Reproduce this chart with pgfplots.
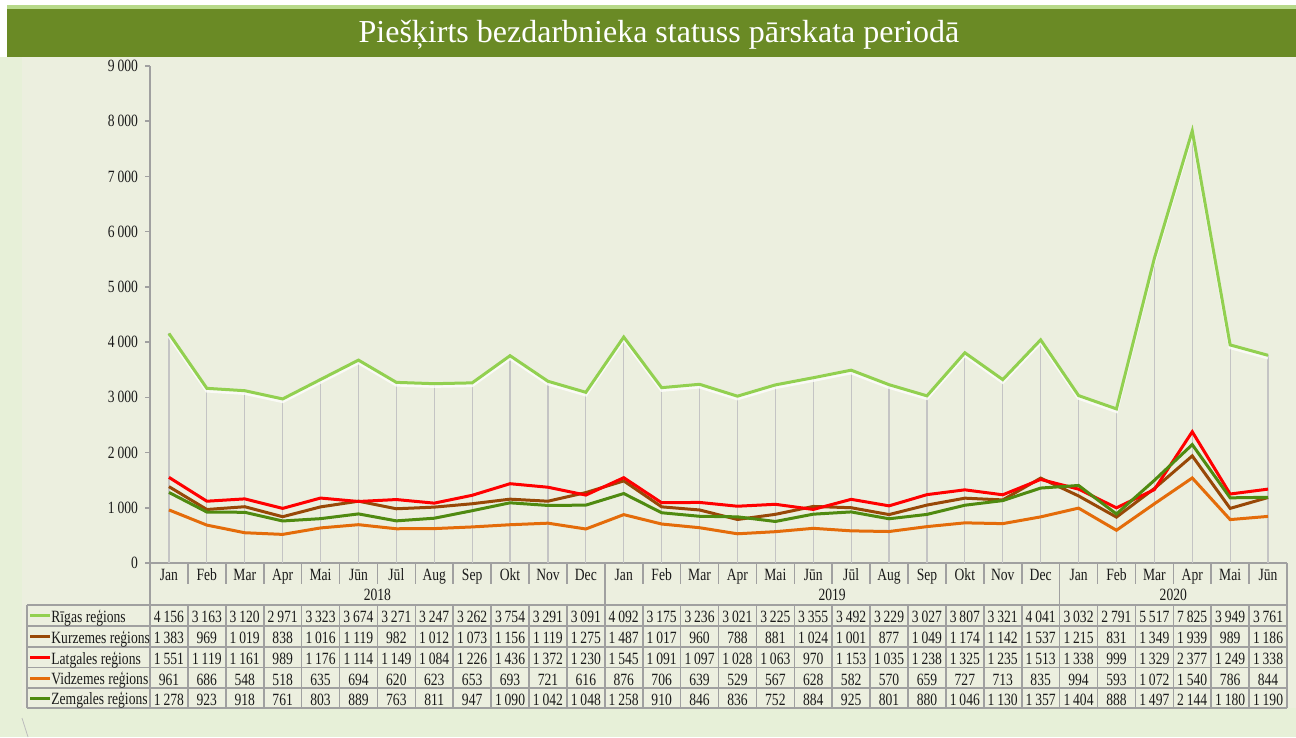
\documentclass[border=0pt]{standalone}
\usepackage{fontspec}
\setmainfont{Liberation Serif}[FakeStretch=0.79]
\newfontfamily\titlefont{Liberation Serif}
\usepackage{pgfplots}
\usepackage{pgfplotstable}
\pgfplotsset{compat=1.18}
\definecolor{bgmain}{HTML}{ECEFDF}
\definecolor{bgout}{HTML}{E7F0D8}
\definecolor{titlebar}{HTML}{6A8A25}
\definecolor{titletop}{HTML}{B7D98A}
\definecolor{cRiga}{HTML}{92D050}
\definecolor{cKurz}{HTML}{984807}
\definecolor{cLatg}{HTML}{FF0000}
\definecolor{cVidz}{HTML}{E46C0A}
\definecolor{cZemg}{HTML}{4F8A10}
\definecolor{gridc}{HTML}{A0A0A0}
\definecolor{dropc}{HTML}{C4C4C4}
\definecolor{txt}{HTML}{1A1A1A}

\pgfplotstableread{
x mon riga kurz latg vidz zemg
0 Jan 4156 1383 1551 961 1278
1 Feb 3163 969 1119 686 923
2 Mar 3120 1019 1161 548 918
3 Apr 2971 838 989 518 761
4 Mai 3323 1016 1176 635 803
5 Jūn 3674 1119 1114 694 889
6 Jūl 3271 982 1149 620 763
7 Aug 3247 1012 1084 623 811
8 Sep 3262 1073 1226 653 947
9 Okt 3754 1156 1436 693 1090
10 Nov 3291 1119 1372 721 1042
11 Dec 3091 1275 1230 616 1048
12 Jan 4092 1487 1545 876 1258
13 Feb 3175 1017 1091 706 910
14 Mar 3236 960 1097 639 846
15 Apr 3021 788 1028 529 836
16 Mai 3225 881 1063 567 752
17 Jūn 3355 1024 970 628 884
18 Jūl 3492 1001 1153 582 925
19 Aug 3229 877 1035 570 801
20 Sep 3027 1049 1238 659 880
21 Okt 3807 1174 1325 727 1046
22 Nov 3321 1142 1235 713 1130
23 Dec 4041 1537 1513 835 1357
24 Jan 3032 1215 1338 994 1404
25 Feb 2791 831 999 593 888
26 Mar 5517 1349 1329 1072 1497
27 Apr 7825 1939 2377 1540 2144
28 Mai 3949 989 1249 786 1180
29 Jūn 3761 1186 1338 844 1190
}\data

\pgfplotstableread{
x lab
5.5 2018
17.5 2019
26.5 2020
}\years

\newcommand{\tf}{\fontsize{8.6}{10}\selectfont}

\begin{document}
\begin{tikzpicture}
\begin{scope}[x=0.5pt,y=-0.5pt]
\fill[white] (0,0) rectangle (1296,737);
\fill[bgout] (0,57) rectangle (1296,737);
\fill[bgmain] (22,57) rectangle (1296,708);
\fill[titletop] (7,5) rectangle (1296,9);
\fill[titlebar] (7,9) rectangle (1296,57);
\node[text=white, anchor=base, inner sep=0pt, font=\titlefont\fontsize{16}{18}\selectfont] at (659,42.7) {Piešķirts bezdarbnieka statuss pārskata periodā};
\draw[gridc!70, line width=0.4pt] (22,718) -- (28,737);
\end{scope}

\begin{axis}[
  at={(75pt,-281.5pt)}, anchor=south west,
  scale only axis, width=568.5pt, height=248.5pt,
  xmin=-0.5, xmax=29.5, ymin=0, ymax=9000,
  clip=false,
  axis x line*=bottom, axis y line*=left,
  axis line style={gridc, line width=0.9pt},
  xtick=\empty,
  ytick={0,1000,...,9000},
  tick align=outside, major tick length=2.5pt,
  y tick style={gridc, line width=0.8pt},
  yticklabel style={font=\tf, text=txt},
  /pgf/number format/.cd, 1000 sep={\,}, assume math mode=true,
  /pgfplots/.cd,
  every node near coord/.append style={anchor=center, font=\tf, text=txt, inner sep=0pt, text height=0.68em, text depth=0pt},
]
% drop lines
\addplot[ycomb, dropc, line width=0.6pt, mark=none] table[x=x, y=riga]{\data};
% series
\addplot[white, opacity=0.75, line width=1.6pt, mark=none, yshift=-1.3pt] table[x=x, y=riga]{\data};
\addplot[cRiga, line width=1.5pt, mark=none] table[x=x, y=riga]{\data};
\addplot[cKurz, line width=1.5pt, mark=none] table[x=x, y=kurz]{\data};
\addplot[cLatg, line width=1.5pt, mark=none] table[x=x, y=latg]{\data};
\addplot[cVidz, line width=1.5pt, mark=none] table[x=x, y=vidz]{\data};
\addplot[cZemg, line width=1.5pt, mark=none] table[x=x, y=zemg]{\data};
% month labels
\addplot[draw=none, mark=none, point meta=explicit symbolic, nodes near coords={\pgfplotspointmeta}] table[x=x, y expr=-199, meta=mon]{\data};
% year labels
\addplot[draw=none, mark=none, point meta=explicit symbolic, nodes near coords={\pgfplotspointmeta}] table[x=x, y expr=-561, meta=lab]{\years};
% data table
\addplot[draw=none, mark=none, point meta=\thisrow{riga}, nodes near coords={\pgfmathprintnumber[fixed,precision=0]{\pgfplotspointmeta}}] table[x=x, y expr=-951]{\data};
\addplot[draw=none, mark=none, point meta=\thisrow{kurz}, nodes near coords={\pgfmathprintnumber[fixed,precision=0]{\pgfplotspointmeta}}] table[x=x, y expr=-1331]{\data};
\addplot[draw=none, mark=none, point meta=\thisrow{latg}, nodes near coords={\pgfmathprintnumber[fixed,precision=0]{\pgfplotspointmeta}}] table[x=x, y expr=-1711]{\data};
\addplot[draw=none, mark=none, point meta=\thisrow{vidz}, nodes near coords={\pgfmathprintnumber[fixed,precision=0]{\pgfplotspointmeta}}] table[x=x, y expr=-2092]{\data};
\addplot[draw=none, mark=none, point meta=\thisrow{zemg}, nodes near coords={\pgfmathprintnumber[fixed,precision=0]{\pgfplotspointmeta}}] table[x=x, y expr=-2454]{\data};
\end{axis}

\begin{scope}[x=0.5pt,y=-0.5pt]
\begin{scope}[draw=gridc, line width=0.8pt]
\foreach \k in {1,...,29} \draw ({150+37.9*\k},563) -- ({150+37.9*\k},584);
\foreach \k in {12,24} \draw ({150+37.9*\k},563) -- ({150+37.9*\k},605);
\foreach \yy in {605,626,647,667.5,688,708} \draw (27,\yy) -- (1287,\yy);
\foreach \k in {1,...,29} \draw ({150+37.9*\k},605) -- ({150+37.9*\k},708);
\draw (27,605) -- (27,708);
\draw (150,563) -- (150,708);
\draw (1287,563) -- (1287,708);
\end{scope}
\foreach \yy/\c/\n in {615.5/cRiga/Rīgas reģions, 636.5/cKurz/Kurzemes reģions, 657.5/cLatg/Latgales reģions, 678/cVidz/Vidzemes reģions, 698/cZemg/Zemgales reģions}{
  \draw[\c, line width=1.5pt] (30,\yy) -- (50,\yy);
  \node[anchor=west, inner sep=0pt, font=\tf, text=txt, text height=0.68em, text depth=0pt] at (51,\yy) {\n};
}
\end{scope}
\end{tikzpicture}
\end{document}
